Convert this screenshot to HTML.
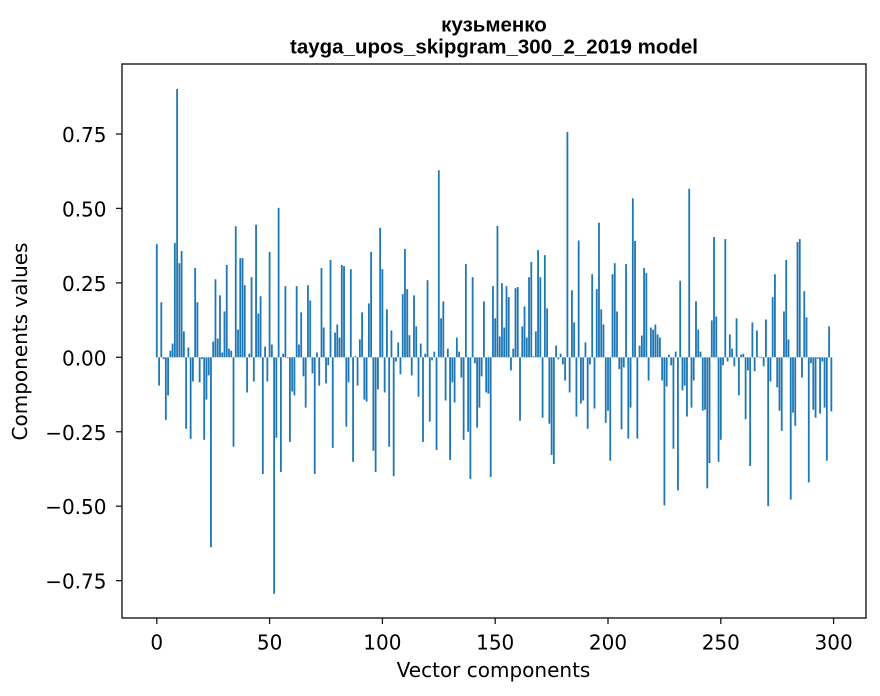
<!DOCTYPE html>
<html>
<head>
<meta charset="utf-8">
<style>
  html, body { margin: 0; padding: 0; background: #ffffff; }
  svg { display: block; }
  .tick { font-family: "DejaVu Sans", "Liberation Sans", sans-serif; font-size: 20px; fill: #000; }
  .title { font-family: "Liberation Sans", "DejaVu Sans", sans-serif; font-weight: bold; font-size: 20.5px; fill: #000; }
</style>
</head>
<body>
<svg width="880" height="696" viewBox="0 0 880 696" xmlns="http://www.w3.org/2000/svg">
  <rect x="0" y="0" width="880" height="696" fill="#ffffff"/>

  <!-- bars -->
  <g transform="translate(156.8,357.3) scale(2.256,-297.8)" fill="#1f77b4">
    <rect x="-0.4" y="0" width="0.8" height="0.38"/>
    <rect x="0.6" y="-0.095" width="0.8" height="0.095"/>
    <rect x="1.6" y="0" width="0.8" height="0.185"/>
    <rect x="2.6" y="-0.006" width="0.8" height="0.006"/>
    <rect x="3.6" y="-0.21" width="0.8" height="0.21"/>
    <rect x="4.6" y="-0.128" width="0.8" height="0.128"/>
    <rect x="5.6" y="0" width="0.8" height="0.022"/>
    <rect x="6.6" y="0" width="0.8" height="0.046"/>
    <rect x="7.6" y="0" width="0.8" height="0.384"/>
    <rect x="8.6" y="0" width="0.8" height="0.901"/>
    <rect x="9.6" y="0" width="0.8" height="0.316"/>
    <rect x="10.6" y="0" width="0.8" height="0.357"/>
    <rect x="11.6" y="0" width="0.8" height="0.087"/>
    <rect x="12.6" y="-0.24" width="0.8" height="0.24"/>
    <rect x="13.6" y="0" width="0.8" height="0.033"/>
    <rect x="14.6" y="-0.274" width="0.8" height="0.274"/>
    <rect x="15.6" y="-0.081" width="0.8" height="0.081"/>
    <rect x="16.6" y="0" width="0.8" height="0.30"/>
    <rect x="17.6" y="0" width="0.8" height="0.185"/>
    <rect x="18.6" y="-0.084" width="0.8" height="0.084"/>
    <rect x="19.6" y="-0.006" width="0.8" height="0.006"/>
    <rect x="20.6" y="-0.277" width="0.8" height="0.277"/>
    <rect x="21.6" y="-0.142" width="0.8" height="0.142"/>
    <rect x="22.6" y="-0.061" width="0.8" height="0.061"/>
    <rect x="23.6" y="-0.638" width="0.8" height="0.638"/>
    <rect x="24.6" y="0" width="0.8" height="0.053"/>
    <rect x="25.6" y="0" width="0.8" height="0.262"/>
    <rect x="26.6" y="0" width="0.8" height="0.063"/>
    <rect x="27.6" y="0" width="0.8" height="0.208"/>
    <rect x="28.6" y="0" width="0.8" height="0.016"/>
    <rect x="29.6" y="0" width="0.8" height="0.154"/>
    <rect x="30.6" y="0" width="0.8" height="0.31"/>
    <rect x="31.6" y="0" width="0.8" height="0.029"/>
    <rect x="32.6" y="0" width="0.8" height="0.022"/>
    <rect x="33.6" y="-0.30" width="0.8" height="0.30"/>
    <rect x="34.6" y="0" width="0.8" height="0.44"/>
    <rect x="35.6" y="0" width="0.8" height="0.093"/>
    <rect x="36.6" y="0" width="0.8" height="0.333"/>
    <rect x="37.6" y="0" width="0.8" height="0.333"/>
    <rect x="38.6" y="0" width="0.8" height="0.242"/>
    <rect x="39.6" y="-0.118" width="0.8" height="0.118"/>
    <rect x="40.6" y="0" width="0.8" height="0.012"/>
    <rect x="41.6" y="0" width="0.8" height="0.269"/>
    <rect x="42.6" y="-0.081" width="0.8" height="0.081"/>
    <rect x="43.6" y="0" width="0.8" height="0.445"/>
    <rect x="44.6" y="0" width="0.8" height="0.147"/>
    <rect x="45.6" y="0" width="0.8" height="0.205"/>
    <rect x="46.6" y="-0.392" width="0.8" height="0.392"/>
    <rect x="47.6" y="0" width="0.8" height="0.036"/>
    <rect x="48.6" y="-0.081" width="0.8" height="0.081"/>
    <rect x="49.6" y="0" width="0.8" height="0.354"/>
    <rect x="50.6" y="0" width="0.8" height="0.043"/>
    <rect x="51.6" y="-0.794" width="0.8" height="0.794"/>
    <rect x="52.6" y="-0.27" width="0.8" height="0.27"/>
    <rect x="53.6" y="0" width="0.8" height="0.502"/>
    <rect x="54.6" y="-0.385" width="0.8" height="0.385"/>
    <rect x="55.6" y="0" width="0.8" height="0.012"/>
    <rect x="56.6" y="0" width="0.8" height="0.239"/>
    <rect x="57.6" y="-0.003" width="0.8" height="0.003"/>
    <rect x="58.6" y="-0.284" width="0.8" height="0.284"/>
    <rect x="59.6" y="-0.115" width="0.8" height="0.115"/>
    <rect x="60.6" y="-0.128" width="0.8" height="0.128"/>
    <rect x="61.6" y="0" width="0.8" height="0.239"/>
    <rect x="62.6" y="0" width="0.8" height="0.043"/>
    <rect x="63.6" y="0" width="0.8" height="0.151"/>
    <rect x="64.6" y="-0.064" width="0.8" height="0.064"/>
    <rect x="65.6" y="-0.169" width="0.8" height="0.169"/>
    <rect x="66.6" y="0" width="0.8" height="0.242"/>
    <rect x="67.6" y="0" width="0.8" height="0.191"/>
    <rect x="68.6" y="-0.054" width="0.8" height="0.054"/>
    <rect x="69.6" y="-0.392" width="0.8" height="0.392"/>
    <rect x="70.6" y="0" width="0.8" height="0.016"/>
    <rect x="71.6" y="-0.095" width="0.8" height="0.095"/>
    <rect x="72.6" y="0" width="0.8" height="0.30"/>
    <rect x="73.6" y="0" width="0.8" height="0.10"/>
    <rect x="74.6" y="-0.088" width="0.8" height="0.088"/>
    <rect x="75.6" y="-0.027" width="0.8" height="0.027"/>
    <rect x="76.6" y="0" width="0.8" height="0.327"/>
    <rect x="77.6" y="-0.304" width="0.8" height="0.304"/>
    <rect x="78.6" y="0" width="0.8" height="0.083"/>
    <rect x="79.6" y="0" width="0.8" height="0.11"/>
    <rect x="80.6" y="0" width="0.8" height="0.066"/>
    <rect x="81.6" y="0" width="0.8" height="0.31"/>
    <rect x="82.6" y="0" width="0.8" height="0.306"/>
    <rect x="83.6" y="-0.233" width="0.8" height="0.233"/>
    <rect x="84.6" y="-0.084" width="0.8" height="0.084"/>
    <rect x="85.6" y="0" width="0.8" height="0.296"/>
    <rect x="86.6" y="-0.351" width="0.8" height="0.351"/>
    <rect x="87.6" y="0" width="0.8" height="0.004"/>
    <rect x="88.6" y="-0.095" width="0.8" height="0.095"/>
    <rect x="89.6" y="0" width="0.8" height="0.06"/>
    <rect x="90.6" y="0" width="0.8" height="0.151"/>
    <rect x="91.6" y="-0.142" width="0.8" height="0.142"/>
    <rect x="92.6" y="-0.149" width="0.8" height="0.149"/>
    <rect x="93.6" y="0" width="0.8" height="0.181"/>
    <rect x="94.6" y="0" width="0.8" height="0.354"/>
    <rect x="95.6" y="-0.314" width="0.8" height="0.314"/>
    <rect x="96.6" y="-0.385" width="0.8" height="0.385"/>
    <rect x="97.6" y="-0.108" width="0.8" height="0.108"/>
    <rect x="98.6" y="0" width="0.8" height="0.435"/>
    <rect x="99.6" y="0" width="0.8" height="0.296"/>
    <rect x="100.6" y="-0.118" width="0.8" height="0.118"/>
    <rect x="101.6" y="0" width="0.8" height="0.161"/>
    <rect x="102.6" y="-0.30" width="0.8" height="0.30"/>
    <rect x="103.6" y="0" width="0.8" height="0.09"/>
    <rect x="104.6" y="-0.399" width="0.8" height="0.399"/>
    <rect x="105.6" y="-0.014" width="0.8" height="0.014"/>
    <rect x="106.6" y="0" width="0.8" height="0.05"/>
    <rect x="107.6" y="-0.057" width="0.8" height="0.057"/>
    <rect x="108.6" y="0" width="0.8" height="0.212"/>
    <rect x="109.6" y="0" width="0.8" height="0.364"/>
    <rect x="110.6" y="0" width="0.8" height="0.229"/>
    <rect x="111.6" y="0" width="0.8" height="0.074"/>
    <rect x="112.6" y="-0.061" width="0.8" height="0.061"/>
    <rect x="113.6" y="0" width="0.8" height="0.208"/>
    <rect x="114.6" y="0" width="0.8" height="0.104"/>
    <rect x="115.6" y="-0.132" width="0.8" height="0.132"/>
    <rect x="116.6" y="0" width="0.8" height="0.046"/>
    <rect x="117.6" y="-0.284" width="0.8" height="0.284"/>
    <rect x="118.6" y="0" width="0.8" height="0.012"/>
    <rect x="119.6" y="0" width="0.8" height="0.259"/>
    <rect x="120.6" y="-0.216" width="0.8" height="0.216"/>
    <rect x="121.6" y="-0.01" width="0.8" height="0.01"/>
    <rect x="122.6" y="0" width="0.8" height="0.019"/>
    <rect x="123.6" y="-0.311" width="0.8" height="0.311"/>
    <rect x="124.6" y="0" width="0.8" height="0.628"/>
    <rect x="125.6" y="0" width="0.8" height="0.131"/>
    <rect x="126.6" y="0" width="0.8" height="0.188"/>
    <rect x="127.6" y="-0.145" width="0.8" height="0.145"/>
    <rect x="128.6" y="0" width="0.8" height="0.029"/>
    <rect x="129.6" y="-0.345" width="0.8" height="0.345"/>
    <rect x="130.6" y="-0.084" width="0.8" height="0.084"/>
    <rect x="131.6" y="-0.152" width="0.8" height="0.152"/>
    <rect x="132.6" y="0" width="0.8" height="0.066"/>
    <rect x="133.6" y="0" width="0.8" height="0.019"/>
    <rect x="134.6" y="-0.068" width="0.8" height="0.068"/>
    <rect x="135.6" y="-0.277" width="0.8" height="0.277"/>
    <rect x="136.6" y="0" width="0.8" height="0.313"/>
    <rect x="137.6" y="-0.25" width="0.8" height="0.25"/>
    <rect x="138.6" y="-0.409" width="0.8" height="0.409"/>
    <rect x="139.6" y="0" width="0.8" height="0.269"/>
    <rect x="140.6" y="-0.02" width="0.8" height="0.02"/>
    <rect x="141.6" y="-0.236" width="0.8" height="0.236"/>
    <rect x="142.6" y="-0.169" width="0.8" height="0.169"/>
    <rect x="143.6" y="-0.064" width="0.8" height="0.064"/>
    <rect x="144.6" y="0" width="0.8" height="0.188"/>
    <rect x="145.6" y="-0.118" width="0.8" height="0.118"/>
    <rect x="146.6" y="-0.122" width="0.8" height="0.122"/>
    <rect x="147.6" y="-0.402" width="0.8" height="0.402"/>
    <rect x="148.6" y="0" width="0.8" height="0.239"/>
    <rect x="149.6" y="0" width="0.8" height="0.131"/>
    <rect x="150.6" y="0" width="0.8" height="0.441"/>
    <rect x="151.6" y="0" width="0.8" height="0.07"/>
    <rect x="152.6" y="0" width="0.8" height="0.249"/>
    <rect x="153.6" y="0" width="0.8" height="0.10"/>
    <rect x="154.6" y="0" width="0.8" height="0.239"/>
    <rect x="155.6" y="0" width="0.8" height="0.202"/>
    <rect x="156.6" y="-0.044" width="0.8" height="0.044"/>
    <rect x="157.6" y="0" width="0.8" height="0.029"/>
    <rect x="158.6" y="0" width="0.8" height="0.232"/>
    <rect x="159.6" y="0" width="0.8" height="0.236"/>
    <rect x="160.6" y="-0.213" width="0.8" height="0.213"/>
    <rect x="161.6" y="0" width="0.8" height="0.104"/>
    <rect x="162.6" y="0" width="0.8" height="0.171"/>
    <rect x="163.6" y="0" width="0.8" height="0.066"/>
    <rect x="164.6" y="0" width="0.8" height="0.269"/>
    <rect x="165.6" y="0" width="0.8" height="0.32"/>
    <rect x="166.6" y="0" width="0.8" height="0.003"/>
    <rect x="167.6" y="0" width="0.8" height="0.087"/>
    <rect x="168.6" y="0" width="0.8" height="0.36"/>
    <rect x="169.6" y="0" width="0.8" height="0.269"/>
    <rect x="170.6" y="-0.203" width="0.8" height="0.203"/>
    <rect x="171.6" y="0" width="0.8" height="0.343"/>
    <rect x="172.6" y="0" width="0.8" height="0.164"/>
    <rect x="173.6" y="-0.223" width="0.8" height="0.223"/>
    <rect x="174.6" y="-0.328" width="0.8" height="0.328"/>
    <rect x="175.6" y="-0.358" width="0.8" height="0.358"/>
    <rect x="176.6" y="0" width="0.8" height="0.039"/>
    <rect x="177.6" y="-0.007" width="0.8" height="0.007"/>
    <rect x="178.6" y="0" width="0.8" height="0.012"/>
    <rect x="179.6" y="-0.024" width="0.8" height="0.024"/>
    <rect x="180.6" y="-0.078" width="0.8" height="0.078"/>
    <rect x="181.6" y="0" width="0.8" height="0.757"/>
    <rect x="182.6" y="-0.118" width="0.8" height="0.118"/>
    <rect x="183.6" y="0" width="0.8" height="0.225"/>
    <rect x="184.6" y="0" width="0.8" height="0.117"/>
    <rect x="185.6" y="-0.199" width="0.8" height="0.199"/>
    <rect x="186.6" y="0" width="0.8" height="0.392"/>
    <rect x="187.6" y="-0.155" width="0.8" height="0.155"/>
    <rect x="188.6" y="-0.145" width="0.8" height="0.145"/>
    <rect x="189.6" y="0" width="0.8" height="0.05"/>
    <rect x="190.6" y="-0.24" width="0.8" height="0.24"/>
    <rect x="191.6" y="-0.024" width="0.8" height="0.024"/>
    <rect x="192.6" y="0" width="0.8" height="0.279"/>
    <rect x="193.6" y="-0.172" width="0.8" height="0.172"/>
    <rect x="194.6" y="0" width="0.8" height="0.229"/>
    <rect x="195.6" y="0" width="0.8" height="0.452"/>
    <rect x="196.6" y="0" width="0.8" height="0.161"/>
    <rect x="197.6" y="0" width="0.8" height="0.11"/>
    <rect x="198.6" y="-0.22" width="0.8" height="0.22"/>
    <rect x="199.6" y="-0.179" width="0.8" height="0.179"/>
    <rect x="200.6" y="-0.347" width="0.8" height="0.347"/>
    <rect x="201.6" y="0" width="0.8" height="0.279"/>
    <rect x="202.6" y="0" width="0.8" height="0.316"/>
    <rect x="203.6" y="0" width="0.8" height="0.154"/>
    <rect x="204.6" y="-0.04" width="0.8" height="0.04"/>
    <rect x="205.6" y="-0.242" width="0.8" height="0.242"/>
    <rect x="206.6" y="-0.034" width="0.8" height="0.034"/>
    <rect x="207.6" y="0" width="0.8" height="0.313"/>
    <rect x="208.6" y="-0.273" width="0.8" height="0.273"/>
    <rect x="209.6" y="-0.169" width="0.8" height="0.169"/>
    <rect x="210.6" y="0" width="0.8" height="0.534"/>
    <rect x="211.6" y="0" width="0.8" height="0.391"/>
    <rect x="212.6" y="-0.273" width="0.8" height="0.273"/>
    <rect x="213.6" y="0" width="0.8" height="0.039"/>
    <rect x="214.6" y="0" width="0.8" height="0.073"/>
    <rect x="215.6" y="0" width="0.8" height="0.30"/>
    <rect x="216.6" y="0" width="0.8" height="0.283"/>
    <rect x="217.6" y="-0.078" width="0.8" height="0.078"/>
    <rect x="218.6" y="0" width="0.8" height="0.10"/>
    <rect x="219.6" y="0" width="0.8" height="0.093"/>
    <rect x="220.6" y="0" width="0.8" height="0.11"/>
    <rect x="221.6" y="0" width="0.8" height="0.077"/>
    <rect x="222.6" y="0" width="0.8" height="0.066"/>
    <rect x="223.6" y="-0.078" width="0.8" height="0.078"/>
    <rect x="224.6" y="-0.497" width="0.8" height="0.497"/>
    <rect x="225.6" y="-0.098" width="0.8" height="0.098"/>
    <rect x="226.6" y="0" width="0.8" height="0.009"/>
    <rect x="227.6" y="-0.027" width="0.8" height="0.027"/>
    <rect x="228.6" y="-0.307" width="0.8" height="0.307"/>
    <rect x="229.6" y="0" width="0.8" height="0.019"/>
    <rect x="230.6" y="-0.447" width="0.8" height="0.447"/>
    <rect x="231.6" y="0" width="0.8" height="0.257"/>
    <rect x="232.6" y="-0.111" width="0.8" height="0.111"/>
    <rect x="233.6" y="-0.095" width="0.8" height="0.095"/>
    <rect x="234.6" y="-0.199" width="0.8" height="0.199"/>
    <rect x="235.6" y="0" width="0.8" height="0.566"/>
    <rect x="236.6" y="-0.169" width="0.8" height="0.169"/>
    <rect x="237.6" y="-0.078" width="0.8" height="0.078"/>
    <rect x="238.6" y="0" width="0.8" height="0.188"/>
    <rect x="239.6" y="0" width="0.8" height="0.093"/>
    <rect x="240.6" y="0" width="0.8" height="0.019"/>
    <rect x="241.6" y="-0.179" width="0.8" height="0.179"/>
    <rect x="242.6" y="-0.176" width="0.8" height="0.176"/>
    <rect x="243.6" y="-0.44" width="0.8" height="0.44"/>
    <rect x="244.6" y="-0.355" width="0.8" height="0.355"/>
    <rect x="245.6" y="0" width="0.8" height="0.124"/>
    <rect x="246.6" y="0" width="0.8" height="0.404"/>
    <rect x="247.6" y="0" width="0.8" height="0.137"/>
    <rect x="248.6" y="-0.351" width="0.8" height="0.351"/>
    <rect x="249.6" y="-0.277" width="0.8" height="0.277"/>
    <rect x="250.6" y="-0.027" width="0.8" height="0.027"/>
    <rect x="251.6" y="0" width="0.8" height="0.397"/>
    <rect x="252.6" y="-0.014" width="0.8" height="0.014"/>
    <rect x="253.6" y="0" width="0.8" height="0.077"/>
    <rect x="254.6" y="0" width="0.8" height="0.029"/>
    <rect x="255.6" y="-0.03" width="0.8" height="0.03"/>
    <rect x="256.6" y="0" width="0.8" height="0.131"/>
    <rect x="257.6" y="-0.128" width="0.8" height="0.128"/>
    <rect x="258.6" y="0" width="0.8" height="0.009"/>
    <rect x="259.6" y="0" width="0.8" height="0.012"/>
    <rect x="260.6" y="-0.208" width="0.8" height="0.208"/>
    <rect x="261.6" y="-0.044" width="0.8" height="0.044"/>
    <rect x="262.6" y="-0.365" width="0.8" height="0.365"/>
    <rect x="263.6" y="0" width="0.8" height="0.117"/>
    <rect x="264.6" y="-0.047" width="0.8" height="0.047"/>
    <rect x="265.6" y="0" width="0.8" height="0.09"/>
    <rect x="266.6" y="0" width="0.8" height="0.002"/>
    <rect x="267.6" y="-0.003" width="0.8" height="0.003"/>
    <rect x="268.6" y="-0.03" width="0.8" height="0.03"/>
    <rect x="269.6" y="0" width="0.8" height="0.127"/>
    <rect x="270.6" y="-0.50" width="0.8" height="0.50"/>
    <rect x="271.6" y="-0.081" width="0.8" height="0.081"/>
    <rect x="272.6" y="0" width="0.8" height="0.202"/>
    <rect x="273.6" y="0" width="0.8" height="0.279"/>
    <rect x="274.6" y="-0.101" width="0.8" height="0.101"/>
    <rect x="275.6" y="-0.179" width="0.8" height="0.179"/>
    <rect x="276.6" y="-0.247" width="0.8" height="0.247"/>
    <rect x="277.6" y="0" width="0.8" height="0.154"/>
    <rect x="278.6" y="0" width="0.8" height="0.327"/>
    <rect x="279.6" y="0" width="0.8" height="0.06"/>
    <rect x="280.6" y="-0.478" width="0.8" height="0.478"/>
    <rect x="281.6" y="-0.186" width="0.8" height="0.186"/>
    <rect x="282.6" y="-0.23" width="0.8" height="0.23"/>
    <rect x="283.6" y="0" width="0.8" height="0.387"/>
    <rect x="284.6" y="0" width="0.8" height="0.397"/>
    <rect x="285.6" y="-0.068" width="0.8" height="0.068"/>
    <rect x="286.6" y="0" width="0.8" height="0.222"/>
    <rect x="287.6" y="0" width="0.8" height="0.134"/>
    <rect x="288.6" y="-0.42" width="0.8" height="0.42"/>
    <rect x="289.6" y="-0.02" width="0.8" height="0.02"/>
    <rect x="290.6" y="-0.176" width="0.8" height="0.176"/>
    <rect x="291.6" y="-0.203" width="0.8" height="0.203"/>
    <rect x="292.6" y="-0.005" width="0.8" height="0.005"/>
    <rect x="293.6" y="-0.189" width="0.8" height="0.189"/>
    <rect x="294.6" y="-0.014" width="0.8" height="0.014"/>
    <rect x="295.6" y="-0.169" width="0.8" height="0.169"/>
    <rect x="296.6" y="-0.347" width="0.8" height="0.347"/>
    <rect x="297.6" y="0" width="0.8" height="0.104"/>
    <rect x="298.6" y="-0.182" width="0.8" height="0.182"/>
  </g>

  <!-- spines -->
  <rect x="122" y="64" width="744" height="554" fill="none" stroke="#1a1a1a" stroke-width="1.4"/>

  <!-- y ticks -->
  <g stroke="#1a1a1a" stroke-width="1.3">
    <line x1="116" y1="134" x2="122" y2="134"/>
    <line x1="116" y1="208.4" x2="122" y2="208.4"/>
    <line x1="116" y1="282.85" x2="122" y2="282.85"/>
    <line x1="116" y1="357.3" x2="122" y2="357.3"/>
    <line x1="116" y1="431.75" x2="122" y2="431.75"/>
    <line x1="116" y1="506.2" x2="122" y2="506.2"/>
    <line x1="116" y1="580.65" x2="122" y2="580.65"/>
  </g>
  <g class="tick" text-anchor="end">
    <text x="106.5" y="142">0.75</text>
    <text x="106.5" y="216.4">0.50</text>
    <text x="106.5" y="290.85">0.25</text>
    <text x="106.5" y="365.3">0.00</text>
    <text x="106.5" y="439.75">−0.25</text>
    <text x="106.5" y="514.2">−0.50</text>
    <text x="106.5" y="588.65">−0.75</text>
  </g>

  <!-- x ticks -->
  <g stroke="#1a1a1a" stroke-width="1.3">
    <line x1="156.8" y1="618" x2="156.8" y2="624"/>
    <line x1="269.6" y1="618" x2="269.6" y2="624"/>
    <line x1="382.4" y1="618" x2="382.4" y2="624"/>
    <line x1="495.2" y1="618" x2="495.2" y2="624"/>
    <line x1="608" y1="618" x2="608" y2="624"/>
    <line x1="720.8" y1="618" x2="720.8" y2="624"/>
    <line x1="833.6" y1="618" x2="833.6" y2="624"/>
  </g>
  <g class="tick" text-anchor="middle">
    <text x="156.8" y="649.3">0</text>
    <text x="269.6" y="649.3">50</text>
    <text x="382.4" y="649.3">100</text>
    <text x="495.2" y="649.3">150</text>
    <text x="608" y="649.3">200</text>
    <text x="720.8" y="649.3">250</text>
    <text x="833.6" y="649.3">300</text>
  </g>

  <!-- axis labels -->
  <text class="tick" x="493.5" y="677" text-anchor="middle">Vector components</text>
  <text class="tick" transform="translate(27,341.5) rotate(-90)" text-anchor="middle">Components values</text>

  <!-- title -->
  <text class="title" x="494" y="31.5" text-anchor="middle">кузьменко</text>
  <text class="title" x="494" y="53.5" text-anchor="middle">tayga_upos_skipgram_300_2_2019 model</text>
</svg>
</body>
</html>
